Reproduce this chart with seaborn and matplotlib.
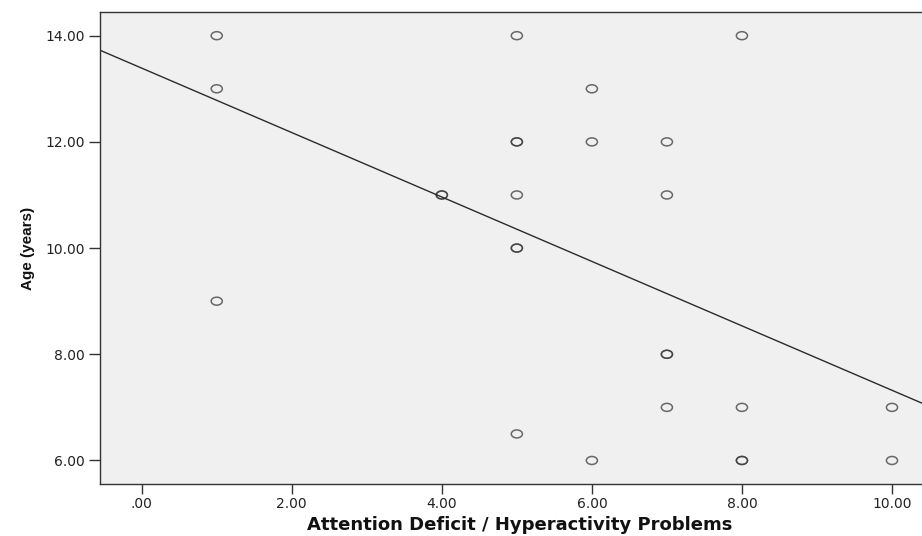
import numpy as np
import pandas as pd
import matplotlib
matplotlib.use("Agg")
import matplotlib.pyplot as plt
from matplotlib.ticker import FuncFormatter
from matplotlib.path import Path
from matplotlib.transforms import Affine2D
import seaborn as sns

# Attention problems score vs age (repeated points are duplicated cases)
adhd_score = [1, 1, 1, 4, 4, 5, 5, 5, 5, 5, 5, 5, 6, 6, 6,
              7, 7, 7, 7, 7, 8, 8, 8, 8, 10, 10]
age_years = [14, 13, 9, 11, 11, 14, 12, 12, 11, 10, 10, 6.5, 13, 12, 6,
             12, 11, 8, 8, 7, 14, 7, 6, 6, 7, 6]

x_ticks = [0, 2, 4, 6, 8, 10]
y_ticks = [6, 8, 10, 12, 14]

df = pd.DataFrame({"adhd": adhd_score, "age": age_years})

sns.set_style("white")
plt.rcParams["font.family"] = ["DejaVu Sans"]

fig = plt.figure(figsize=(9.22, 5.36), dpi=100)
ax = fig.add_axes([100 / 922, 1 - 484 / 536, 1 - 100 / 922, 472 / 536])
ax.set_facecolor("#f0f0f0")
ax.set_xlim(-0.556, 10.40)
ax.set_ylim(5.557, 14.446)

# SPSS-style open markers are slightly wider than tall
oval = Path.unit_circle().transformed(Affine2D().scale(1.0, 0.72))

sns.regplot(data=df, x="adhd", y="age", ax=ax, ci=None, truncate=False,
            marker=oval,
            scatter_kws=dict(s=64, facecolors="none", edgecolors="#3a3a3a",
                             linewidths=1.1, alpha=0.75),
            line_kws=dict(color="#2b2b2b", linewidth=1.0))

fmt = lambda v, pos: (f"{v:.2f}"[1:] if abs(v) < 1 else f"{v:.2f}")
ax.xaxis.set_major_formatter(FuncFormatter(fmt))
ax.yaxis.set_major_formatter(FuncFormatter(fmt))
ax.set_xticks(x_ticks)
ax.set_yticks(y_ticks)
ax.tick_params(direction="out", width=1, color="#333333",
               labelsize=10, labelcolor="#222222",
               bottom=True, left=True)
ax.tick_params(axis="x", length=7, pad=2)
ax.tick_params(axis="y", length=8, pad=3)

for side in ["left", "bottom", "top"]:
    ax.spines[side].set_color("#333333")
    ax.spines[side].set_linewidth(1.0)
ax.spines["right"].set_visible(False)

ax.set_xlabel("Attention Deficit / Hyperactivity Problems", fontsize=13,
              fontweight="bold", color="#111111")
ax.xaxis.set_label_coords((520 - 100) / 822, -32 / 472)
ax.set_ylabel("Age (years)", fontsize=11, fontweight="bold", color="#111111",
              family=["Liberation Sans"])
ax.yaxis.set_label_coords((35 - 100) / 822, 0.5)

fig.savefig("out.png", dpi=100)
